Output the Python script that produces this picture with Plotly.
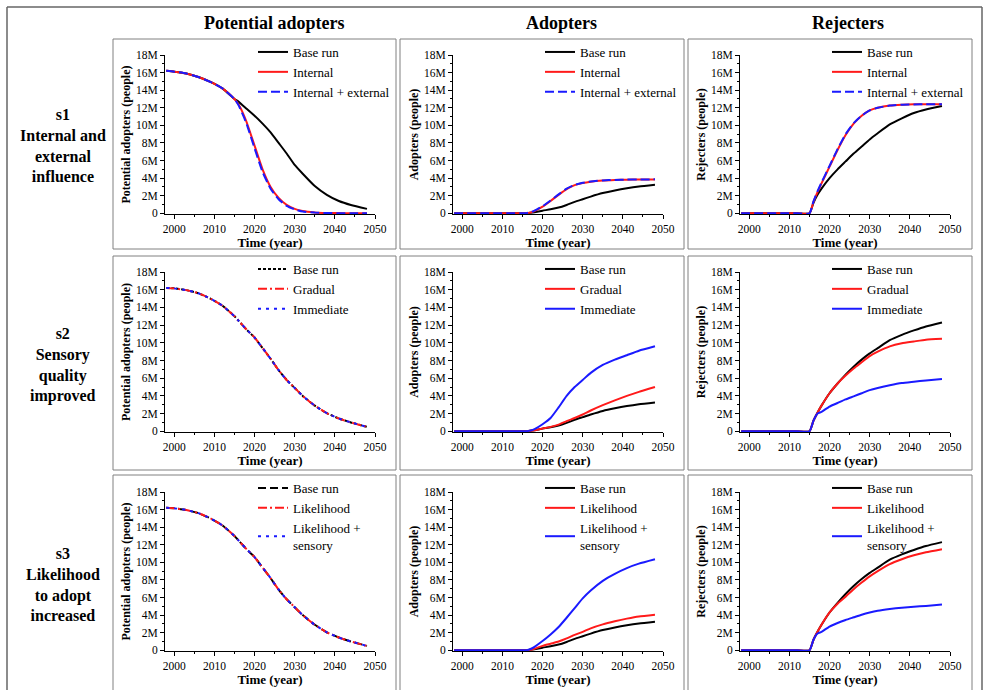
import plotly.graph_objects as go

W, H = 984, 690

YEARS = [1998, 2000, 2003, 2006, 2009, 2012, 2015, 2016, 2017, 2018, 2020,
         2022, 2024, 2026, 2028, 2030, 2032, 2035, 2038, 2041, 2044, 2048]

# values in millions of people
# s1 : internal and external influence
PA1_BASE = [16.2, 16.1, 15.9, 15.5, 14.95, 14.2, 13.0, 12.7, 12.3, 11.9, 11.1,
            10.2, 9.2, 8.0, 6.8, 5.5, 4.5, 3.1, 2.1, 1.4, 0.95, 0.5]
PA1_INT = [16.2, 16.1, 15.9, 15.5, 14.95, 14.2, 13.0, 12.4, 11.5, 10.4, 7.7,
           5.0, 3.0, 1.75, 0.95, 0.5, 0.25, 0.1, 0.04, 0.02, 0.01, 0.0]
PA1_EXT = [16.2, 16.1, 15.9, 15.5, 14.95, 14.2, 13.0, 12.3, 11.3, 10.2, 7.4,
           4.7, 2.8, 1.6, 0.85, 0.45, 0.2, 0.08, 0.03, 0.01, 0.0, 0.0]
A1_BASE = [0, 0, 0, 0, 0, 0, 0, 0.0, 0.05, 0.12, 0.3,
           0.45, 0.65, 0.95, 1.3, 1.6, 1.9, 2.3, 2.6, 2.85, 3.05, 3.25]
A1_INT = [0, 0, 0, 0, 0, 0, 0, 0.02, 0.1, 0.25, 0.75,
          1.4, 2.1, 2.75, 3.2, 3.45, 3.6, 3.72, 3.78, 3.82, 3.84, 3.85]
A1_EXT = [0, 0, 0, 0, 0, 0, 0, 0.02, 0.12, 0.3, 0.8,
          1.45, 2.15, 2.8, 3.22, 3.47, 3.62, 3.74, 3.8, 3.83, 3.85, 3.86]
R1_BASE = [0, 0, 0, 0, 0, 0, 0, 1.2, 2.1, 2.8, 4.0,
           5.0, 5.9, 6.8, 7.6, 8.4, 9.1, 10.1, 10.8, 11.4, 11.8, 12.2]
R1_INT = [0, 0, 0, 0, 0, 0, 0, 1.3, 2.4, 3.4, 5.3,
          7.2, 8.9, 10.2, 11.1, 11.7, 12.0, 12.25, 12.35, 12.4, 12.4, 12.4]
R1_EXT = [0, 0, 0, 0, 0, 0, 0, 1.35, 2.5, 3.5, 5.4,
          7.3, 9.0, 10.25, 11.1, 11.7, 12.0, 12.25, 12.35, 12.38, 12.4, 12.4]

# s2 / s3 : potential adopters (all scenarios coincide)
PA_BASE = [16.2, 16.15, 15.95, 15.6, 15.0, 14.2, 13.0, 12.5, 12.0, 11.5, 10.6,
           9.4, 8.2, 6.9, 5.8, 4.9, 4.0, 2.9, 2.05, 1.45, 1.0, 0.5]

# s2 : sensory quality improved
A2_GRAD = [0, 0, 0, 0, 0, 0, 0, 0.0, 0.05, 0.12, 0.32,
           0.5, 0.75, 1.15, 1.5, 1.9, 2.35, 2.95, 3.5, 4.0, 4.45, 5.0]
A2_IMM = [0, 0, 0, 0, 0, 0, 0, 0.02, 0.1, 0.25, 0.8,
          1.5, 2.7, 4.0, 5.0, 5.8, 6.6, 7.5, 8.1, 8.6, 9.1, 9.6]
R2_BASE = [0, 0, 0, 0, 0, 0, 0, 1.2, 2.1, 2.9, 4.3,
           5.4, 6.4, 7.3, 8.1, 8.8, 9.4, 10.3, 10.9, 11.4, 11.85, 12.3]
R2_GRAD = [0, 0, 0, 0, 0, 0, 0, 1.2, 2.1, 2.9, 4.3,
           5.4, 6.3, 7.1, 7.8, 8.5, 9.0, 9.6, 9.95, 10.15, 10.35, 10.45]
R2_IMM = [0, 0, 0, 0, 0, 0, 0, 1.2, 2.0, 2.2, 2.8,
          3.2, 3.6, 3.95, 4.3, 4.65, 4.9, 5.2, 5.45, 5.6, 5.75, 5.9]

# s3 : likelihood to adopt increased
A3_LIK = [0, 0, 0, 0, 0, 0, 0, 0.0, 0.06, 0.18, 0.5,
          0.75, 1.0, 1.35, 1.75, 2.1, 2.5, 2.95, 3.3, 3.6, 3.85, 4.05]
A3_SENS = [0, 0, 0, 0, 0, 0, 0, 0.02, 0.15, 0.4, 1.05,
           1.8, 2.65, 3.7, 4.8, 5.9, 6.8, 7.9, 8.7, 9.35, 9.85, 10.35]
R3_LIK = [0, 0, 0, 0, 0, 0, 0, 1.2, 2.1, 2.9, 4.3,
          5.3, 6.1, 6.95, 7.7, 8.4, 9.0, 9.8, 10.35, 10.8, 11.15, 11.5]
R3_SENS = [0, 0, 0, 0, 0, 0, 0, 1.2, 1.9, 2.1, 2.7,
           3.1, 3.45, 3.75, 4.05, 4.3, 4.5, 4.7, 4.85, 4.95, 5.05, 5.2]

COL_TITLES = ["Potential adopters", "Adopters", "Rejecters"]
ROW_TITLES = ["s1<br>Internal and<br>external<br>influence",
              "s2<br>Sensory<br>quality<br>improved",
              "s3<br>Likelihood<br>to adopt<br>increased"]
Y_TITLES = ["Potential adopters (people)", "Adopters (people)", "Rejecters (people)"]
X_TITLE = "Time (year)"
Y_TICKS = [0, 2, 4, 6, 8, 10, 12, 14, 16, 18]
Y_TICKTEXT = ["0", "2M", "4M", "6M", "8M", "10M", "12M", "14M", "16M", "18M"]
X_TICKS = [2000, 2010, 2020, 2030, 2040, 2050]

NAMES = [["Base run", "Internal", "Internal + external"],
         ["Base run", "Gradual", "Immediate"],
         ["Base run", "Likelihood", "Likelihood +<br>sensory"]]

DATA = [
    [[PA1_BASE, PA1_INT, PA1_EXT], [A1_BASE, A1_INT, A1_EXT], [R1_BASE, R1_INT, R1_EXT]],
    [[PA_BASE, PA_BASE, PA_BASE], [A1_BASE, A2_GRAD, A2_IMM], [R2_BASE, R2_GRAD, R2_IMM]],
    [[PA_BASE, PA_BASE, PA_BASE], [A1_BASE, A3_LIK, A3_SENS], [R2_BASE, R3_LIK, R3_SENS]],
]

BLACK, RED, BLUE = "#000000", "#ff1a1a", "#1a1aff"
COLORS = [BLACK, RED, BLUE]


def dashes(r, c):
    if r == 0:
        return ["solid", "solid", "9px,4px"]
    if c == 0:
        if r == 1:
            return ["3px,2px", "9px,3px,2px,3px", "3px,5px"]
        return ["8px,4px", "9px,3px,2px,3px", "3px,5px"]
    return ["solid", "solid", "solid"]


SERIF = "Liberation Serif"

# layout geometry in pixels
COL_X = [(165, 375), (453, 663), (740, 950)]
ROW_Y = [(55, 214), (272, 432), (492, 651)]
BOX_X = [(113, 396), (400, 684), (688, 972)]
BOX_Y = [(39, 249), (256, 470), (475, 700)]
LEG_X = [253, 540, 827]
LEG_Y = [37, 254, 473]
HEAD_X = [274, 561, 848]


def px(x):
    return x / W


def py(y):
    return 1 - y / H


fig = go.Figure()
layout = dict(width=W, height=H, margin=dict(l=0, r=0, t=0, b=0, autoexpand=False),
              paper_bgcolor="white", plot_bgcolor="white", showlegend=True)

for r in range(3):
    for c in range(3):
        i = r * 3 + c + 1
        sfx = "" if i == 1 else str(i)
        xa, ya = "x" + sfx, "y" + sfx
        leg = "legend" + sfx
        ds = dashes(r, c)
        for k in range(3):
            fig.add_trace(go.Scatter(
                x=YEARS, y=DATA[r][c][k], mode="lines", name=NAMES[r][k],
                line=dict(color=COLORS[k], width=2, dash=ds[k], shape="spline", smoothing=0.5),
                xaxis=xa, yaxis=ya, legend=leg, showlegend=True))
        layout["xaxis" + sfx] = dict(
            domain=[px(COL_X[c][0]), px(COL_X[c][1])], anchor=ya, automargin=False,
            range=[1997.7, 2050], tickvals=X_TICKS, ticks="outside", ticklen=4,
            tickcolor="black", showline=True, linecolor="black", linewidth=1,
            showgrid=False, zeroline=False,
            tickfont=dict(family=SERIF, size=11.5, color="black"),
            minor=dict(ticks="outside", ticklen=2, tickvals=[2005, 2015, 2025, 2035, 2045], tickcolor="black"),
            title=dict(text="<b>" + X_TITLE + "</b>", standoff=1,
                       font=dict(family=SERIF, size=13, color="black")))
        layout["yaxis" + sfx] = dict(
            domain=[py(ROW_Y[r][1]), py(ROW_Y[r][0])], anchor=xa, automargin=False,
            range=[-0.08, 18], tickvals=Y_TICKS, ticktext=Y_TICKTEXT,
            ticks="outside", ticklen=4, tickcolor="black", showline=True,
            linecolor="black", linewidth=1, showgrid=False, zeroline=False,
            tickfont=dict(family=SERIF, size=11.5, color="black"),
            minor=dict(ticks="outside", ticklen=2, tickvals=[1, 3, 5, 7, 9, 11, 13, 15, 17], tickcolor="black"),
            title=dict(text="<b>" + Y_TITLES[c] + "</b>", standoff=2,
                       font=dict(family=SERIF, size=12, color="black")))
        layout[leg] = dict(
            x=px(LEG_X[c]), y=py(LEG_Y[r]), xanchor="left", yanchor="top",
            bgcolor="rgba(0,0,0,0)", borderwidth=0, itemwidth=30,
            font=dict(family=SERIF, size=13, color="black"),
            tracegroupgap=0, itemclick=False, itemdoubleclick=False)

fig.update_layout(**layout)

shapes = []
for r in range(3):
    for c in range(3):
        shapes.append(dict(type="rect", xref="paper", yref="paper",
                           x0=px(BOX_X[c][0]), x1=px(BOX_X[c][1]),
                           y0=py(BOX_Y[r][1]), y1=py(BOX_Y[r][0]),
                           line=dict(color="#808080", width=1), layer="below"))
# outer frame
FRAME = dict(color="#666666", width=1.5)
shapes.append(dict(type="line", xref="paper", yref="paper", x0=px(7), x1=px(982), y0=py(7), y1=py(7), line=FRAME))
shapes.append(dict(type="line", xref="paper", yref="paper", x0=px(7), x1=px(7), y0=py(7), y1=py(700), line=FRAME))
shapes.append(dict(type="line", xref="paper", yref="paper", x0=px(982), x1=px(982), y0=py(7), y1=py(700), line=FRAME))
fig.update_layout(shapes=shapes)

ann = []
for c, t in enumerate(COL_TITLES):
    ann.append(dict(text="<b>" + t + "</b>", x=px(HEAD_X[c]), y=py(23),
                    xref="paper", yref="paper", showarrow=False,
                    xanchor="center", yanchor="middle",
                    font=dict(family=SERIF, size=18, color="black")))
ROW_CY = [146, 365, 584]
for r, t in enumerate(ROW_TITLES):
    ann.append(dict(text="<b>" + t + "</b>", x=px(63), y=py(ROW_CY[r]),
                    xref="paper", yref="paper", showarrow=False, align="center",
                    xanchor="center", yanchor="middle",
                    font=dict(family=SERIF, size=16, color="black")))
fig.update_layout(annotations=ann)

fig.write_html("out.html", config={"displayModeBar": False},
               post_script="document.body.style.margin='0';document.body.style.overflow='hidden';")
